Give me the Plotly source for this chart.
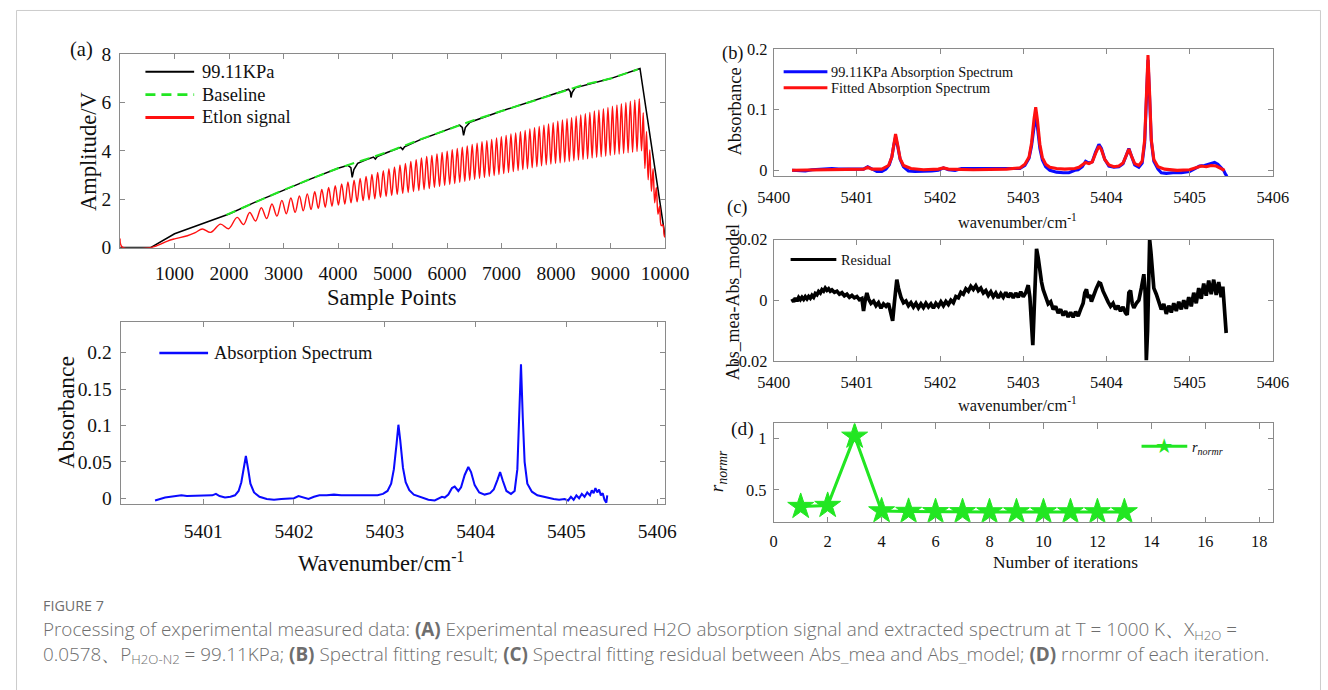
import plotly.graph_objects as go

# Layout is specified in screen pixels of the 1328 x 690 view.  The page keeps the
# default 8 px body margin and is shown scaled by SCALE, so the figure is sized to
# fill that view and every position / size is converted from screen pixels.
SCALE = 0.976
PAGE_OFF = 8
W, H = 1345, 691

# ---------------- (a) raw detector signal vs sample index ----------------
signal_x = [0, 560, 1000, 1500, 2000, 2500, 3000, 3500, 4000, 4180, 4235, 4259, 4290, 4360,
            4500, 4650, 4684, 4720, 4900, 5150, 5186, 5220, 5500, 6000, 6230, 6280, 6303,
            6335, 6420, 7000, 7500, 8000, 8230, 8262, 8274, 8295, 8350, 9000, 9540, 10000]
signal_v = [0.0, 0.0, 0.57, 0.98, 1.39, 1.90, 2.38, 2.84, 3.28, 3.40, 3.30, 2.90, 3.22, 3.48,
            3.62, 3.74, 3.66, 3.76, 3.93, 4.14, 4.05, 4.16, 4.45, 4.88, 5.06, 4.96, 4.64,
            4.96, 5.18, 5.64, 6.00, 6.36, 6.54, 6.44, 6.20, 6.40, 6.60, 6.98, 7.40, 0.45]

baseline_x = [1950, 2500, 3000, 3500, 4000, 4500, 5000, 5500, 6000, 6500, 7000, 7500,
              8000, 8500, 9000, 9500]
baseline_v = [1.35, 1.90, 2.38, 2.84, 3.28, 3.64, 4.02, 4.46, 4.88, 5.27, 5.64, 6.00,
              6.36, 6.72, 6.98, 7.36]

# etalon fringes: successive maxima / minima of the interference signal
etalon_x = [0, 40, 560, 700, 870, 1000, 1235, 1380,
            1509, 1661, 1843, 1990, 2148, 2265, 2379, 2485, 2592, 2690, 2787, 2878,
            2969, 3050, 3134, 3212, 3290, 3362, 3435, 3504, 3572, 3637, 3702, 3765,
            3827, 3888, 3948, 4007, 4066, 4124, 4181, 4238, 4294, 4350, 4405, 4460,
            4514, 4568, 4621, 4674, 4726, 4778, 4830, 4882, 4933, 4984, 5035, 5086,
            5136, 5186, 5236, 5286, 5335, 5384, 5433, 5482, 5530, 5578, 5626, 5674,
            5721, 5768, 5815, 5862, 5909, 5956, 6002, 6049, 6095, 6141, 6187, 6233,
            6279, 6325, 6370, 6416, 6461, 6506, 6551, 6596, 6641, 6686, 6730, 6775,
            6819, 6864, 6908, 6952, 6996, 7040, 7084, 7128, 7172, 7216, 7259, 7303,
            7346, 7390, 7433, 7476, 7519, 7562, 7605, 7648, 7691, 7734, 7777, 7820,
            7862, 7905, 7947, 7990, 8032, 8075, 8117, 8159, 8201, 8243, 8285, 8327,
            8369, 8411, 8453, 8495, 8537, 8579, 8620, 8662, 8703, 8745, 8786, 8828,
            8869, 8911, 8952, 8994, 9035, 9076, 9117, 9158, 9199, 9240, 9281, 9322,
            9363, 9404, 9445, 9486, 9527, 9568, 9600, 9630, 9660, 9690, 9720, 9750,
            9780, 9810, 9840, 9870, 9900, 9930, 9960, 9985, 10000]
etalon_v = [0.38, 0.02, 0.0, 0.10, 0.27, 0.36, 0.49, 0.62,
            0.77, 0.63, 0.97, 0.78, 1.25, 0.95, 1.45, 1.10, 1.65, 1.20, 1.80, 1.30,
            1.95, 1.40, 2.05, 1.46, 2.13, 1.52, 2.22, 1.57, 2.31, 1.62, 2.40, 1.67,
            2.48, 1.71, 2.56, 1.76, 2.63, 1.80, 2.71, 1.85, 2.78, 1.89, 2.86, 1.94,
            2.94, 1.98, 3.02, 2.02, 3.10, 2.07, 3.18, 2.11, 3.26, 2.15, 3.33, 2.19,
            3.41, 2.24, 3.48, 2.28, 3.56, 2.32, 3.63, 2.36, 3.70, 2.40, 3.76, 2.44,
            3.81, 2.49, 3.87, 2.53, 3.93, 2.57, 3.98, 2.61, 4.04, 2.65, 4.09, 2.70,
            4.15, 2.74, 4.20, 2.78, 4.26, 2.82, 4.31, 2.86, 4.37, 2.90, 4.42, 2.94,
            4.47, 2.98, 4.53, 3.02, 4.58, 3.06, 4.63, 3.10, 4.69, 3.14, 4.74, 3.18,
            4.79, 3.22, 4.84, 3.26, 4.90, 3.30, 4.95, 3.34, 5.00, 3.38, 5.06, 3.42,
            5.11, 3.45, 5.16, 3.48, 5.22, 3.50, 5.27, 3.53, 5.32, 3.56, 5.37, 3.59,
            5.43, 3.62, 5.48, 3.64, 5.53, 3.67, 5.58, 3.70, 5.64, 3.73, 5.69, 3.75,
            5.74, 3.78, 5.79, 3.81, 5.84, 3.84, 5.89, 3.86, 5.94, 3.89, 5.99, 3.92,
            6.05, 3.94, 6.10, 3.97, 6.15, 4.00, 5.57, 3.27, 4.80, 2.80, 4.03, 2.33,
            3.26, 1.85, 2.48, 1.38, 1.71, 0.91, 0.94, 0.50, 0.42]

# ---------------- extracted absorption spectrum ----------------
abs_wn = [5400.47, 5400.52, 5400.58, 5400.64, 5400.70, 5400.76, 5400.82, 5400.88, 5400.94,
          5401.00, 5401.06, 5401.10, 5401.14, 5401.18, 5401.24, 5401.30, 5401.35, 5401.39,
          5401.42, 5401.445, 5401.47, 5401.495, 5401.52, 5401.56, 5401.62, 5401.70, 5401.78,
          5401.86, 5401.94, 5402.00, 5402.05, 5402.10, 5402.16, 5402.22, 5402.28, 5402.36,
          5402.44, 5402.52, 5402.60, 5402.68, 5402.76, 5402.84, 5402.92, 5402.98, 5403.03,
          5403.07, 5403.10, 5403.13, 5403.15, 5403.17, 5403.20, 5403.23, 5403.27, 5403.32,
          5403.40, 5403.48, 5403.55, 5403.60, 5403.63, 5403.66, 5403.70, 5403.74, 5403.77,
          5403.81, 5403.84, 5403.88, 5403.92, 5403.95, 5403.99, 5404.04, 5404.10, 5404.16,
          5404.20, 5404.24, 5404.27, 5404.30, 5404.34, 5404.39, 5404.43, 5404.46, 5404.48,
          5404.50, 5404.52, 5404.54, 5404.57, 5404.62, 5404.68, 5404.74, 5404.80, 5404.86,
          5404.92, 5404.98, 5405.02, 5405.05, 5405.08, 5405.11, 5405.14, 5405.17, 5405.20,
          5405.23, 5405.26, 5405.28, 5405.30, 5405.32, 5405.34, 5405.36, 5405.38, 5405.40,
          5405.42, 5405.44, 5405.45]
abs_val = [-0.003, -0.001, 0.001, 0.002, 0.003, 0.004, 0.003, 0.003, 0.004,
           0.003, 0.003, 0.004, 0.006, 0.003, 0.001, 0.002, 0.004, 0.010,
           0.022, 0.040, 0.058, 0.040, 0.020, 0.008, 0.002, -0.001, -0.002,
           -0.001, -0.001, 0.000, 0.003, 0.001, -0.001, 0.002, 0.004, 0.004,
           0.005, 0.004, 0.004, 0.003, 0.004, 0.003, 0.004, 0.006, 0.010,
           0.020, 0.040, 0.075, 0.101, 0.080, 0.042, 0.022, 0.011, 0.005,
           0.001, -0.002, -0.003, 0.000, 0.002, 0.001, 0.005, 0.014, 0.016,
           0.010, 0.015, 0.032, 0.043, 0.036, 0.018, 0.008, 0.005, 0.007,
           0.012, 0.025, 0.036, 0.024, 0.010, 0.006, 0.010, 0.040, 0.110,
           0.184, 0.110, 0.050, 0.020, 0.009, 0.004, 0.002, 0.000, -0.001,
           -0.002, -0.001, -0.003, 0.002, -0.002, 0.004, 0.000, 0.006, 0.002,
           0.008, 0.004, 0.011, 0.007, 0.014, 0.008, 0.012, 0.004, 0.007,
           -0.002, -0.006, 0.004]

# ---------------- (b) measured vs fitted spectrum ----------------
meas_wn = [5400.22, 5400.30, 5400.38, 5400.46, 5400.54, 5400.62, 5400.70, 5400.78, 5400.86,
           5400.94, 5401.02, 5401.08, 5401.13, 5401.18, 5401.24, 5401.30, 5401.35, 5401.39,
           5401.42, 5401.445, 5401.465, 5401.49, 5401.52, 5401.56, 5401.62, 5401.70, 5401.80,
           5401.90, 5401.98, 5402.04, 5402.10, 5402.18, 5402.26, 5402.36, 5402.46, 5402.56,
           5402.66, 5402.76, 5402.86, 5402.96, 5403.02, 5403.07, 5403.10, 5403.13, 5403.15,
           5403.17, 5403.20, 5403.23, 5403.27, 5403.32, 5403.40, 5403.48, 5403.55, 5403.62,
           5403.66, 5403.71, 5403.75, 5403.79, 5403.83, 5403.87, 5403.91, 5403.94, 5403.98,
           5404.03, 5404.09, 5404.15, 5404.20, 5404.24, 5404.27, 5404.30, 5404.34, 5404.39,
           5404.43, 5404.46, 5404.48, 5404.50, 5404.52, 5404.54, 5404.57, 5404.62, 5404.66,
           5404.72, 5404.80, 5404.90, 5405.00, 5405.06, 5405.12, 5405.18, 5405.24, 5405.30,
           5405.34, 5405.38, 5405.41, 5405.43, 5405.45]
meas_val = [0.000, 0.000, -0.001, 0.001, 0.002, 0.003, 0.003, 0.002, 0.002,
            0.001, 0.001, 0.002, 0.006, 0.002, -0.002, -0.002, 0.002, 0.009,
            0.022, 0.042, 0.055, 0.040, 0.018, 0.006, -0.001, -0.002, -0.002,
            -0.001, 0.000, 0.004, 0.001, 0.000, 0.003, 0.003, 0.003, 0.002,
            0.002, 0.002, 0.002, 0.003, 0.008, 0.020, 0.040, 0.075, 0.092,
            0.072, 0.036, 0.017, 0.006, 0.000, -0.003, -0.004, -0.004, 0.000,
            0.001, 0.006, 0.015, 0.012, 0.014, 0.030, 0.043, 0.036, 0.018,
            0.007, 0.005, 0.006, 0.011, 0.025, 0.036, 0.024, 0.009, 0.005,
            0.012, 0.045, 0.120, 0.182, 0.118, 0.048, 0.015, 0.002, -0.004,
            -0.005, -0.004, -0.004, -0.002, 0.002, 0.007, 0.008, 0.010, 0.013,
            0.010, 0.005, 0.000, -0.006, -0.010]

fit_wn = [5400.22, 5400.60, 5401.00, 5401.08, 5401.13, 5401.18, 5401.30, 5401.38, 5401.42,
          5401.445, 5401.465, 5401.49, 5401.52, 5401.56, 5401.65, 5401.80, 5401.98, 5402.04,
          5402.10, 5402.40, 5402.80, 5402.96, 5403.02, 5403.07, 5403.10, 5403.13, 5403.15,
          5403.17, 5403.20, 5403.23, 5403.27, 5403.32, 5403.40, 5403.50, 5403.58, 5403.62,
          5403.67, 5403.72, 5403.75, 5403.79, 5403.83, 5403.87, 5403.91, 5403.94, 5403.98,
          5404.03, 5404.09, 5404.15, 5404.20, 5404.24, 5404.27, 5404.30, 5404.34, 5404.39,
          5404.43, 5404.46, 5404.48, 5404.50, 5404.52, 5404.54, 5404.57, 5404.62, 5404.70,
          5404.85, 5405.00, 5405.08, 5405.14, 5405.20, 5405.26, 5405.32, 5405.38, 5405.42]
fit_val = [0.000, 0.001, 0.001, 0.002, 0.005, 0.002, 0.002, 0.008, 0.022,
           0.042, 0.060, 0.042, 0.019, 0.008, 0.003, 0.001, 0.002, 0.004,
           0.002, 0.001, 0.002, 0.004, 0.010, 0.022, 0.045, 0.085, 0.104,
           0.084, 0.043, 0.021, 0.010, 0.005, 0.003, 0.002, 0.003, 0.003,
           0.005, 0.010, 0.013, 0.011, 0.014, 0.028, 0.040, 0.034, 0.018,
           0.009, 0.006, 0.007, 0.012, 0.025, 0.035, 0.024, 0.011, 0.008,
           0.015, 0.050, 0.125, 0.190, 0.125, 0.050, 0.018, 0.006, 0.002,
           0.000, 0.001, 0.004, 0.007, 0.006, 0.008, 0.007, 0.002, 0.000]

# ---------------- (c) fitting residual ----------------
res_wn = [5400.22, 5400.24, 5400.26, 5400.28, 5400.30, 5400.32, 5400.34, 5400.36, 5400.38,
          5400.40, 5400.42, 5400.44, 5400.46, 5400.48, 5400.50, 5400.52, 5400.54, 5400.56,
          5400.58, 5400.60, 5400.62, 5400.64, 5400.66, 5400.68, 5400.70, 5400.73, 5400.76,
          5400.79, 5400.82, 5400.85, 5400.88, 5400.91, 5400.94, 5400.97, 5401.00, 5401.03,
          5401.06, 5401.08, 5401.10, 5401.12, 5401.14, 5401.17, 5401.20, 5401.23, 5401.26,
          5401.29, 5401.32, 5401.35, 5401.38, 5401.41, 5401.43, 5401.45, 5401.47, 5401.48,
          5401.50, 5401.53, 5401.56, 5401.59, 5401.62, 5401.65, 5401.68, 5401.71, 5401.74,
          5401.77, 5401.80, 5401.83, 5401.86, 5401.89, 5401.92, 5401.95, 5401.98, 5402.01,
          5402.04, 5402.07, 5402.10, 5402.13, 5402.16, 5402.19, 5402.22, 5402.25, 5402.28,
          5402.31, 5402.34, 5402.37, 5402.40, 5402.43, 5402.46, 5402.49, 5402.52, 5402.55,
          5402.58, 5402.61, 5402.64, 5402.67, 5402.70, 5402.73, 5402.76, 5402.79, 5402.82,
          5402.85, 5402.88, 5402.91, 5402.94, 5402.97, 5403.00, 5403.03, 5403.06, 5403.08,
          5403.10, 5403.115, 5403.13, 5403.145, 5403.16, 5403.18, 5403.20, 5403.22, 5403.24,
          5403.27, 5403.30, 5403.33, 5403.36, 5403.39, 5403.42, 5403.45, 5403.48, 5403.51,
          5403.54, 5403.57, 5403.60, 5403.63, 5403.66, 5403.69, 5403.72, 5403.74, 5403.76,
          5403.78, 5403.80, 5403.82, 5403.85, 5403.88, 5403.91, 5403.93, 5403.96, 5403.99,
          5404.02, 5404.05, 5404.08, 5404.11, 5404.14, 5404.17, 5404.20, 5404.23, 5404.25,
          5404.27, 5404.29, 5404.31, 5404.33, 5404.36, 5404.39, 5404.42, 5404.45, 5404.465,
          5404.48, 5404.495, 5404.51, 5404.52, 5404.535, 5404.55, 5404.57, 5404.60, 5404.63,
          5404.66, 5404.69, 5404.72, 5404.75, 5404.78, 5404.81, 5404.84, 5404.87, 5404.90,
          5404.93, 5404.96, 5404.99, 5405.02, 5405.05, 5405.08, 5405.11, 5405.14, 5405.17,
          5405.20, 5405.23, 5405.26, 5405.29, 5405.32, 5405.35, 5405.38, 5405.40, 5405.42,
          5405.43, 5405.44]
res_val = [0.0005, -0.0005, 0.0008, -0.0003, 0.0009, 0.0002, 0.0010, 0.0003, 0.0012,
           0.0005, 0.0013, 0.0007, 0.0016, 0.0010, 0.0022, 0.0018, 0.0029, 0.0024,
           0.0035, 0.0030, 0.0040, 0.0033, 0.0038, 0.0030, 0.0034, 0.0026, 0.0030,
           0.0020, 0.0025, 0.0015, 0.0020, 0.0010, 0.0016, 0.0008, 0.0012, 0.0002,
           0.0006, -0.0035, 0.0000, 0.0024, 0.0005, -0.0010, -0.0003, -0.0018, -0.0008,
           -0.0026, -0.0012, -0.0020, -0.0010, -0.0045, -0.0068, -0.0010, 0.0050, 0.0068,
           0.0040, 0.0010, -0.0008, -0.0002, -0.0018, -0.0008, -0.0022, -0.0010, -0.0025,
           -0.0012, -0.0024, -0.0010, -0.0022, -0.0012, -0.0026, -0.0010, -0.0020, -0.0005,
           -0.0018, -0.0004, -0.0014, 0.0000, -0.0008, 0.0012, 0.0008, 0.0026, 0.0020,
           0.0038, 0.0030, 0.0046, 0.0036, 0.0048, 0.0032, 0.0040, 0.0024, 0.0032,
           0.0016, 0.0028, 0.0012, 0.0024, 0.0008, 0.0022, 0.0010, 0.0026, 0.0010,
           0.0024, 0.0008, 0.0024, 0.0010, 0.0028, 0.0012, 0.0025, 0.0050, 0.0010,
           -0.0080, -0.0148, -0.0040, 0.0100, 0.0170, 0.0140, 0.0095, 0.0060, 0.0035,
           0.0010, -0.0012, -0.0005, -0.0030, -0.0020, -0.0042, -0.0030, -0.0050, -0.0036,
           -0.0055, -0.0040, -0.0056, -0.0038, -0.0052, -0.0030, -0.0010, 0.0025, 0.0036,
           0.0008, 0.0018, -0.0004, 0.0020, 0.0040, 0.0058, 0.0055, 0.0030, 0.0010,
           -0.0005, -0.0020, -0.0010, -0.0030, -0.0018, -0.0036, -0.0022, -0.0042, -0.0048,
           0.0025, 0.0032, -0.0010, -0.0025, -0.0010, 0.0000, 0.0040, 0.0086, 0.0030,
           -0.0198, -0.0100, 0.0100, 0.0200, 0.0160, 0.0090, 0.0040, 0.0020, -0.0005,
           -0.0030, -0.0012, -0.0045, -0.0018, -0.0040, -0.0010, -0.0035, -0.0005, -0.0030,
           0.0000, -0.0028, 0.0010, -0.0020, 0.0025, -0.0010, 0.0040, 0.0005, 0.0055,
           0.0015, 0.0065, 0.0020, 0.0068, 0.0018, 0.0060, 0.0010, 0.0045, -0.0020,
           -0.0075, -0.0108]

# ---------------- (d) normalised residual per iteration ----------------
iterations = [1, 2, 3, 4, 5, 6, 7, 8, 9, 10, 11, 12, 13]
r_normr = [0.338, 0.348, 1.02, 0.295, 0.290, 0.287, 0.287, 0.286, 0.286, 0.286, 0.286, 0.286, 0.286]

# ---------------- styling ----------------
SERIF = "Liberation Serif, Times New Roman, serif"
AXIS_GREY = "#8a8a8a"
BLUE = "#0a0aff"
RED = "#ff1010"
GREEN = "#22e622"


def s(v):
    """screen pixels -> figure pixels (sizes, widths)"""
    return v / SCALE


def px(x):
    """screen x -> paper fraction"""
    return (x / SCALE - PAGE_OFF) / W


def py(y):
    """screen y -> paper fraction"""
    return 1 - (y / SCALE - PAGE_OFF) / H


def axis(domain, rng, tickvals, ticktext=None, size=16, anchor=None, standoff=4):
    if ticktext is None:
        ticktext = [str(v) for v in tickvals]
    return dict(domain=domain, range=rng, tickvals=tickvals, ticktext=ticktext, showline=True,
                linecolor=AXIS_GREY, linewidth=1, mirror="ticks", ticks="inside", ticklen=s(5),
                tickcolor=AXIS_GREY, showgrid=False, zeroline=False, anchor=anchor,
                ticklabelstandoff=int(round(s(standoff))),
                tickfont=dict(family=SERIF, size=s(size), color="#111111"))


fig = go.Figure()

# (a)
fig.add_trace(go.Scatter(x=signal_x, y=signal_v, mode="lines", line=dict(color="black", width=s(1.5)),
                         xaxis="x", yaxis="y"))
fig.add_trace(go.Scatter(x=baseline_x, y=baseline_v, mode="lines",
                         line=dict(color=GREEN, width=s(2), dash="10px,6px"), xaxis="x", yaxis="y"))
fig.add_trace(go.Scatter(x=etalon_x, y=etalon_v, mode="lines",
                         line=dict(color=RED, width=s(1.4), shape="spline", smoothing=1.0),
                         xaxis="x", yaxis="y"))
# lower-left spectrum
fig.add_trace(go.Scatter(x=abs_wn, y=abs_val, mode="lines", line=dict(color=BLUE, width=s(2)),
                         xaxis="x2", yaxis="y2"))
# (b)
fig.add_trace(go.Scatter(x=meas_wn, y=meas_val, mode="lines", line=dict(color=BLUE, width=s(3)),
                         xaxis="x3", yaxis="y3"))
fig.add_trace(go.Scatter(x=fit_wn, y=fit_val, mode="lines", line=dict(color=RED, width=s(3)),
                         xaxis="x3", yaxis="y3"))
# (c)
fig.add_trace(go.Scatter(x=res_wn, y=res_val, mode="lines", line=dict(color="black", width=s(3.6)),
                         xaxis="x4", yaxis="y4"))
# (d)
fig.add_trace(go.Scatter(x=iterations, y=r_normr, mode="lines+markers",
                         line=dict(color=GREEN, width=s(3)),
                         marker=dict(symbol="star", size=s(19), color=GREEN,
                                     line=dict(color=GREEN, width=1)),
                         xaxis="x5", yaxis="y5"))

layout = dict(
    width=W, height=H, autosize=False, showlegend=False,
    margin=dict(l=0, r=0, t=0, b=0),
    paper_bgcolor="white", plot_bgcolor="white",
    font=dict(family=SERIF, color="#111111"),
    xaxis=axis([px(112.5), px(660.7)], [0, 10000], list(range(1000, 10001, 1000)), size=19,
               anchor="y", standoff=8),
    yaxis=axis([py(247), py(52)], [0, 8], [0, 2, 4, 6, 8], size=19, anchor="x", standoff=4),
    xaxis2=axis([px(113), px(661)], [5400.09, 5406.09], [5401, 5402, 5403, 5404, 5405, 5406],
                size=19, anchor="y2", standoff=10),
    yaxis2=axis([py(505), py(322)], [-0.0078, 0.2419], [0, 0.05, 0.1, 0.15, 0.2],
                ["0", "0.05", "0.1", "0.15", "0.2"], size=19, anchor="x2", standoff=4),
    xaxis3=axis([px(770), px(1272)], [5400, 5406], [5400, 5401, 5402, 5403, 5404, 5405, 5406],
                size=16, anchor="y3", standoff=6),
    yaxis3=axis([py(175), py(47)], [-0.0095, 0.2], [0, 0.1, 0.2], ["0", "0.1", "0.2"],
                size=16, anchor="x3", standoff=2),
    xaxis4=axis([px(770), px(1272)], [5400, 5406], [5400, 5401, 5402, 5403, 5404, 5405, 5406],
                size=16, anchor="y4", standoff=6),
    yaxis4=axis([py(361), py(239)], [-0.02, 0.02], [-0.02, 0, 0.02], ["-0.02", "0", "0.02"],
                size=16, anchor="x4", standoff=2),
    xaxis5=axis([px(770), px(1272)], [0, 18.5], list(range(0, 19, 2)), size=16, anchor="y5",
                standoff=5),
    yaxis5=axis([py(523), py(424)], [0.19, 1.145], [0.5, 1], ["0.5", "1"], size=16,
                anchor="x5", standoff=3),
)
fig.update_layout(**layout)

ann = []


def text(x, y, t, size, angle=0, xanchor="center", family=SERIF, color="#111111", weight=None,
         yanchor="middle"):
    f = dict(family=family, size=s(size), color=color)
    if weight is not None:
        f["weight"] = weight
    ann.append(dict(x=px(x), y=py(y), xref="paper", yref="paper", text=t, showarrow=False,
                    textangle=angle, xanchor=xanchor, yanchor=yanchor, align="left", font=f))


# panel labels and axis titles
text(74, 48, "(a)", 20)
text(80, 150, "Amplitude/V", 22, angle=-90)
text(386, 297, "Sample Points", 22)
text(58, 413, "Absorbance", 23, angle=-90)
text(375, 563, "Wavenumber/cm<sup>-1</sup>", 22)
text(729, 52, "(b)", 18)
text(731, 110, "Absorbance", 18, angle=-90)
text(1015, 221, "wavenumber/cm<sup>-1</sup>", 16)
text(733, 207, "(c)", 18)
text(729, 302, "Abs_mea-Abs_model", 17.5, angle=-90)
text(1015, 405, "wavenumber/cm<sup>-1</sup>", 16)
text(739, 430, "(d)", 19)
text(714, 472, "<i>r<sub>normr</sub></i>", 19, angle=-90)
text(1064, 563, "Number of iterations", 17)

# legends
shapes = []


def legend_line(x0, x1, y, color, width, dash="solid"):
    shapes.append(dict(type="line", xref="paper", yref="paper", x0=px(x0), x1=px(x1),
                       y0=py(y), y1=py(y), line=dict(color=color, width=s(width), dash=dash)))


legend_line(138, 187, 70, "black", 2)
legend_line(138, 187, 93, GREEN, 2.5, "10px,6px")
legend_line(138, 187, 116, RED, 3)
text(193, 70, "99.11KPa", 18, xanchor="left")
text(193, 93, "Baseline", 18, xanchor="left")
text(193, 116, "Etlon signal", 18, xanchor="left")

legend_line(152, 201, 353, BLUE, 2.5)
text(205, 353, "Absorption Spectrum", 18, xanchor="left")

legend_line(780, 824, 70, BLUE, 3)
legend_line(780, 824, 86, RED, 3)
text(826, 70, "99.11KPa Absorption Spectrum", 14, xanchor="left")
text(826, 86, "Fitted Absorption Spectrum", 14, xanchor="left")

legend_line(787, 833, 259, "black", 3)
text(836, 259, "Residual", 14, xanchor="left")

legend_line(1140, 1186, 447, GREEN, 3)
text(1163, 447, "★", 20, color=GREEN, family="DejaVu Sans")
text(1189, 449, "<i>r<sub>normr</sub></i>", 14, xanchor="left")

# caption (two lines in one text block)
CAP = "Open Sans"
CAP_COLOR = "#6e6e6e"
text(33, 607, "FIGURE 7", 14, xanchor="left", family=CAP, color=CAP_COLOR)
text(33, 644, "Processing of experimental measured data: <b>(A)</b> Experimental measured H2O absorption "
     "signal and extracted spectrum at T = 1000 K、X<sub>H2O</sub> =<br>"
     "0.0578、P<sub>H2O-N2</sub> = 99.11KPa; <b>(B)</b> Spectral fitting result; <b>(C)</b> "
     "Spectral fitting residual between Abs_mea and Abs_model; <b>(D)</b> rnormr of each iteration.",
     18.4, xanchor="left", family=CAP, color=CAP_COLOR, weight=300)

# outer frame
shapes.append(dict(type="rect", xref="paper", yref="paper", x0=0.0004, x1=0.9996, y0=-0.1,
                   y1=0.9993, line=dict(color="#cccccc", width=1), fillcolor="rgba(0,0,0,0)"))

fig.update_layout(annotations=ann, shapes=shapes)
fig.write_html("out.html")
